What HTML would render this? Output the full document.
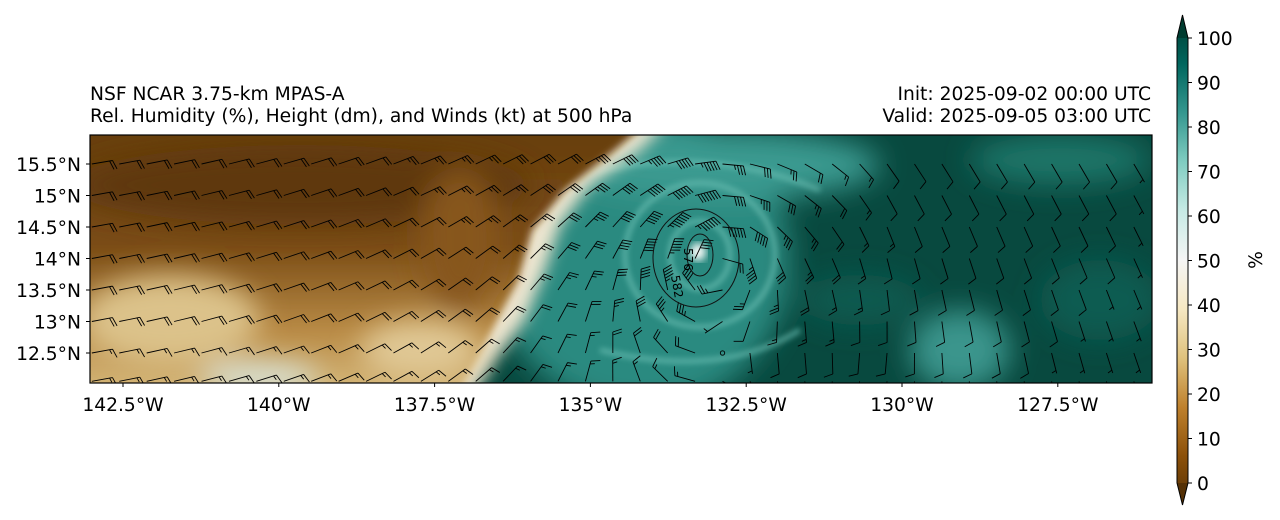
<!DOCTYPE html>
<html><head><meta charset="utf-8"><style>
body{margin:0;background:#fff;}
svg{display:block;font-family:"DejaVu Sans","Liberation Sans",sans-serif;}
</style></head><body>
<svg id="chart" width="1280" height="520" viewBox="0 0 1280 520">
<defs>
<filter id="b8" x="-20%" y="-20%" width="140%" height="140%"><feGaussianBlur stdDeviation="8"/></filter>
<filter id="b14" x="-30%" y="-30%" width="160%" height="160%"><feGaussianBlur stdDeviation="14"/></filter>
<filter id="b4"><feGaussianBlur stdDeviation="4"/></filter>
<filter id="b3" x="-20%" y="-20%" width="140%" height="140%"><feGaussianBlur stdDeviation="3"/></filter>
<clipPath id="plotclip"><rect x="90" y="135" width="1062" height="248"/></clipPath>
<linearGradient id="brown" x1="0" y1="0" x2="0" y2="1">
<stop offset="0" stop-color="#653d0e"/><stop offset="0.45" stop-color="#7a4c15"/><stop offset="0.75" stop-color="#b88a45"/><stop offset="1" stop-color="#d9bd80"/>
</linearGradient>
<linearGradient id="cbar" x1="0" y1="1" x2="0" y2="0">
<stop offset="0" stop-color="#543005"/><stop offset="0.1" stop-color="#8c510a"/><stop offset="0.2" stop-color="#bf812d"/><stop offset="0.3" stop-color="#dfc27d"/><stop offset="0.4" stop-color="#f6e8c3"/><stop offset="0.5" stop-color="#f5f5f5"/><stop offset="0.6" stop-color="#c7eae5"/><stop offset="0.7" stop-color="#80cdc1"/><stop offset="0.8" stop-color="#35978f"/><stop offset="0.9" stop-color="#01665e"/><stop offset="1" stop-color="#003c30"/>
</linearGradient>
</defs>
<text x="90" y="100" font-size="18.7">NSF NCAR 3.75-km MPAS-A</text>
<text x="90" y="122" font-size="18.7">Rel. Humidity (%), Height (dm), and Winds (kt) at 500 hPa</text>
<text x="1151" y="100" font-size="18.7" text-anchor="end">Init: 2025-09-02 00:00 UTC</text>
<text x="1151" y="122" font-size="18.7" text-anchor="end">Valid: 2025-09-05 03:00 UTC</text>

<g clip-path="url(#plotclip)">
<rect x="90" y="135" width="1062" height="248" fill="#08493f"/>
<g filter="url(#b14)">
<ellipse cx="640" cy="260" rx="150" ry="150" fill="#2a8a80"/>
<ellipse cx="720" cy="165" rx="160" ry="35" fill="#3a9a90"/>
<ellipse cx="960" cy="350" rx="50" ry="40" fill="#3a958c"/>
<ellipse cx="1060" cy="160" rx="90" ry="25" fill="#1f7468"/>
<ellipse cx="860" cy="300" rx="60" ry="25" fill="#0d5a4f"/>
<ellipse cx="1100" cy="300" rx="60" ry="40" fill="#0e5c51"/>
</g>
<g filter="url(#b3)" fill="none" stroke="#6cc0b4" stroke-width="5" opacity="0.7">
<ellipse cx="700" cy="255" rx="75" ry="72"/>
<ellipse cx="700" cy="255" rx="30" ry="34"/>
<path d="M560,180 Q700,140 820,190"/>
<path d="M600,350 Q720,380 800,330"/>
</g>
<polygon points="60,120 670,120 640,150 590,185 560,225 545,270 525,320 495,360 470,400 60,400" fill="#eee6d0" filter="url(#b8)"/>
<polygon points="60,120 650,120 615,150 565,190 532,230 518,280 492,330 455,400 60,400" fill="url(#brown)" filter="url(#b4)"/>
<g filter="url(#b14)">
<ellipse cx="300" cy="185" rx="230" ry="40" fill="#5f380b"/>
<ellipse cx="170" cy="320" rx="90" ry="45" fill="#dcc28a"/>
<ellipse cx="260" cy="378" rx="60" ry="15" fill="#d8e4dc"/>
<ellipse cx="420" cy="350" rx="60" ry="30" fill="#e0c894"/>
<ellipse cx="460" cy="240" rx="40" ry="70" fill="#87571a"/>
</g>
<ellipse cx="698" cy="252" rx="8" ry="9" fill="#f2f8f6" filter="url(#b4)"/>
</g>

<g id="barbs" clip-path="url(#plotclip)"></g>

<g fill="none" stroke="#111" stroke-width="1">
<ellipse cx="696" cy="258" rx="43" ry="49"/>
<ellipse cx="700" cy="255" rx="13" ry="21"/>
</g>
<text x="684" y="248" font-size="12" transform="rotate(90 684 248)">576</text>
<text x="671" y="276" font-size="12" transform="rotate(80 671 276)">582</text>

<rect x="90" y="135" width="1062" height="248" fill="none" stroke="#000" stroke-width="1.2"/>
<g id="axes" font-size="18.7"></g>

<g>
<polygon points="1177,38 1182.5,15 1188,38 1188,483 1182.5,505 1177,483" fill="url(#cbar)"/>
<polygon points="1177,38 1182.5,15 1188,38" fill="#003c30"/>
<polygon points="1177,483 1182.5,505 1188,483" fill="#543005"/>
<polygon points="1177,38 1182.5,15 1188,38 1188,483 1182.5,505 1177,483" fill="none" stroke="#000" stroke-width="1"/>
</g>
<g id="cbticks" font-size="18.7"></g>
<text x="1262" y="260" font-size="18.7" text-anchor="middle" transform="rotate(-90 1262 260)">%</text>
</svg>
<script>
const lonTicks=[-142.5,-140,-137.5,-135,-132.5,-130,-127.5];
const lonLabels=["142.5°W","140°W","137.5°W","135°W","132.5°W","130°W","127.5°W"];
const latTicks=[15.5,15,14.5,14,13.5,13,12.5];
const latLabels=["15.5°N","15°N","14.5°N","14°N","13.5°N","13°N","12.5°N"];
const cbTicks=[0,10,20,30,40,50,60,70,80,90,100];
const stormCenter=[-132.9,14.0];
const barbLons=[];for(let i=0;i<39;i++)barbLons.push(-143.0+i*0.44);
const barbLats=[15.5,15.0,14.5,14.0,13.5,13.0,12.5,12.05];
const NS="http://www.w3.org/2000/svg";
const xS=lon=>123+(lon+142.5)*(155.8/2.5);
const yS=lat=>164+(15.5-lat)*(31.5/0.5);
const cS=v=>483-v*4.45;
function mk(tag,attrs,parent){const e=document.createElementNS(NS,tag);for(const k in attrs)e.setAttribute(k,attrs[k]);parent.appendChild(e);return e;}
const axes=document.getElementById('axes');
lonTicks.forEach((v,i)=>{
 const l=mk('line',{x1:xS(v),x2:xS(v),y1:383,y2:387,stroke:'#000'},axes);
 
 
 const t=mk('text',{x:xS(v),y:411,'text-anchor':'middle'},axes);t.textContent=lonLabels[i];
 
 
});
latTicks.forEach((v,i)=>{
 const l=mk('line',{x1:86,x2:90,y1:yS(v),y2:yS(v),stroke:'#000'},axes);
 
 
 const t=mk('text',{x:81,y:yS(v)+7,'text-anchor':'end'},axes);t.textContent=latLabels[i];
 
 
});
const cb=document.getElementById('cbticks');
cbTicks.forEach(v=>{
 const l=mk('line',{x1:1188,x2:1192,y1:cS(v),y2:cS(v),stroke:'#000'},cb);
 
 
 const t=mk('text',{x:1197,y:cS(v)+7},cb);t.textContent=v;
 
 
});
const bg=document.getElementById('barbs');
const cx=xS(stormCenter[0]),cy=yS(stormCenter[1]);
barbLats.forEach(lat=>{barbLons.forEach(lon=>{
 const x=xS(lon),y=yS(lat);
 const dx=x-cx,dy=y-cy,r=Math.hypot(dx,dy)+1;
 const k = x<cx ? 4000 : 1500;
 const vt=Math.min(55,k/r)*(r<35?r/35:1);
 const bgU = x<cx ? -18 : -18+Math.min(15,(x-cx)/10);
 const u= bgU + (dy/r)*vt, v = 3 + (dx/r)*vt;
 const spd=Math.hypot(u,v);
 const g=mk('g',{stroke:'#000','stroke-width':'0.9',fill:'none'},bg);
 
 
 if(spd<4){mk('circle',{cx:x,cy:y,r:2.2},g);return;}
 const ax=-u/spd, ay=v/spd;
 const L=21, ex=x+ax*L, ey=y+ay*L;
 mk('line',{x1:x,y1:y,x2:ex,y2:ey},g);
 const px=-ay, py=ax;
 let s=Math.round(spd/5)*5, pos=0;
 while(s>=10){const bx=ex-ax*pos*3,by=ey-ay*pos*3;mk('line',{x1:bx,y1:by,x2:bx+px*9+ax*3,y2:by+py*9+ay*3},g);s-=10;pos++;}
 if(s>=5){if(pos===0)pos=1;const bx=ex-ax*pos*3,by=ey-ay*pos*3;mk('line',{x1:bx,y1:by,x2:bx+px*4.5+ax*1.5,y2:by+py*4.5+ay*1.5},g);}
});});
</script>
</body></html>
